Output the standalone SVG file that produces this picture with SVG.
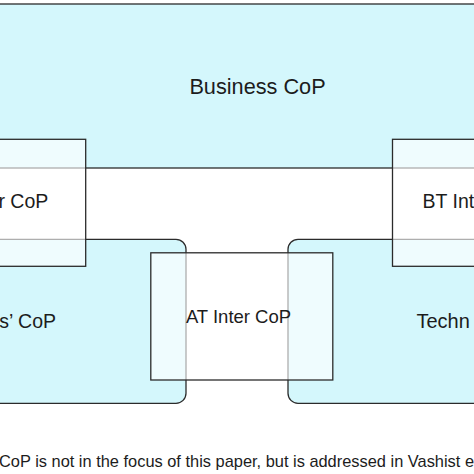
<svg xmlns="http://www.w3.org/2000/svg" width="474" height="474" viewBox="0 0 474 474">
  <style>
    .cop { fill: #d4f7fc; stroke: #2b2b2b; stroke-width: 1.3; }
    .inter { fill: #ffffff; fill-opacity: 0.62; stroke: #2b2b2b; stroke-width: 1.3; }
    .lbl { font-family: "Liberation Sans", Arial, sans-serif; fill: #1c1c1c; }
  </style>
  <rect width="474" height="474" fill="#ffffff"/>
  <g id="business-cop">
    <rect class="cop" x="-20" y="4" width="514" height="164"/>
    <text class="lbl" x="257.5" y="93.5" font-size="21.7" text-anchor="middle">Business CoP</text>
  </g>
  <g id="users-cop">
    <rect class="cop" x="-120" y="239.3" width="306" height="164" rx="10" ry="10"/>
    <text class="lbl" x="56" y="328" font-size="19.5" text-anchor="end">s’ CoP</text>
  </g>
  <g id="technical-cop">
    <rect class="cop" x="288" y="239.3" width="306" height="164" rx="10" ry="10"/>
    <text class="lbl" x="416.5" y="328" font-size="20">Techn</text>
  </g>
  <g id="left-inter-cop">
    <rect class="inter" x="-120" y="139.3" width="205.7" height="127"/>
    <text class="lbl" x="48.3" y="208" font-size="19.5" text-anchor="end">r CoP</text>
  </g>
  <g id="bt-inter-cop">
    <rect class="inter" x="392.5" y="139.3" width="200" height="127"/>
    <text class="lbl" x="422.5" y="208" font-size="19.5">BT Int</text>
  </g>
  <g id="at-inter-cop">
    <rect class="inter" x="150.8" y="252.8" width="182" height="127.2"/>
    <text class="lbl" x="238.5" y="322.7" font-size="18.5" text-anchor="middle">AT Inter CoP</text>
  </g>
  <g id="caption">
    <text class="lbl" x="-1" y="466.5" font-size="16.4" fill="#222">CoP is not in the focus of this paper, but is addressed in Vashist e</text>
  </g>
</svg>
